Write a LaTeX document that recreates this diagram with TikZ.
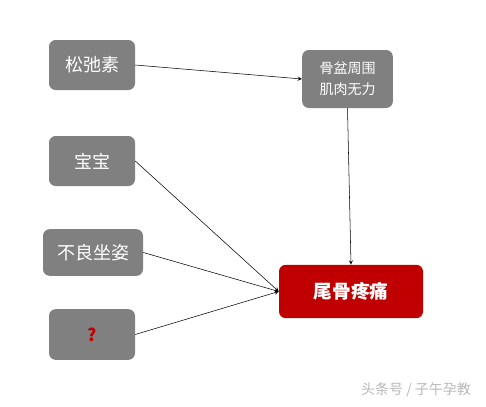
\documentclass[tikz,border=0pt]{standalone}
\usepackage{fontspec}
\usepackage{tikz}
\newfontfamily\cjk{Noto Sans CJK SC}
\definecolor{cause_gray}{HTML}{808080}
\definecolor{pain_red}{HTML}{C00000}
\definecolor{mark_gray}{HTML}{B8B8B8}

\begin{document}
\begin{tikzpicture}[x=0.75pt, y=-0.75pt,
    cause/.style={fill=cause_gray, text=white, rounded corners=5pt, align=center, inner sep=0pt, font=\cjk\fontsize{13.5}{16}\selectfont},
    painbox/.style={fill=pain_red, text=white, rounded corners=5pt, inner sep=0pt, font=\cjk\bfseries\fontsize{14}{16}\selectfont}]
                \useasboundingbox (0, 0) rectangle (486, 407);

                \node[cause, minimum width=64.5pt, minimum height=37.5pt] (relaxin) at (92, 65) {松弛素};
                \node[cause, minimum width=68pt, minimum height=43.5pt, font=\cjk\fontsize{10.5}{16}\selectfont] (muscle) at (347.5, 79) {骨盆周围\\肌肉无力};
                \node[cause, minimum width=64.5pt, minimum height=37.5pt] (baby) at (92, 161) {宝宝};
                \node[cause, minimum width=75pt, minimum height=35pt] (posture) at (93, 252.5) {不良坐姿};
                \node[cause, minimum width=64.5pt, minimum height=38pt, text=pain_red, font=\cjk\bfseries\fontsize{13}{16}\selectfont] (unknown) at (92, 334.5) {?};

                \node[painbox, minimum width=108pt, minimum height=40pt] (pain) at (351, 291.5) {尾骨疼痛};

                \draw[->, >=stealth] (relaxin.east) -- (muscle.west);
                \draw[->, >=stealth] (muscle.south) -- (pain.north);
                \draw[->, >=stealth] (baby.east) -- (pain.west);
                \draw[->, >=stealth] (posture.east) -- (pain.west);
                \draw[->, >=stealth] (unknown.east) -- (pain.west);

                \node[mark_gray, font=\cjk\fontsize{10.5}{12}\selectfont] (mark) at (416, 390) {头条号 / 子午孕教};
\end{tikzpicture}
\end{document}
